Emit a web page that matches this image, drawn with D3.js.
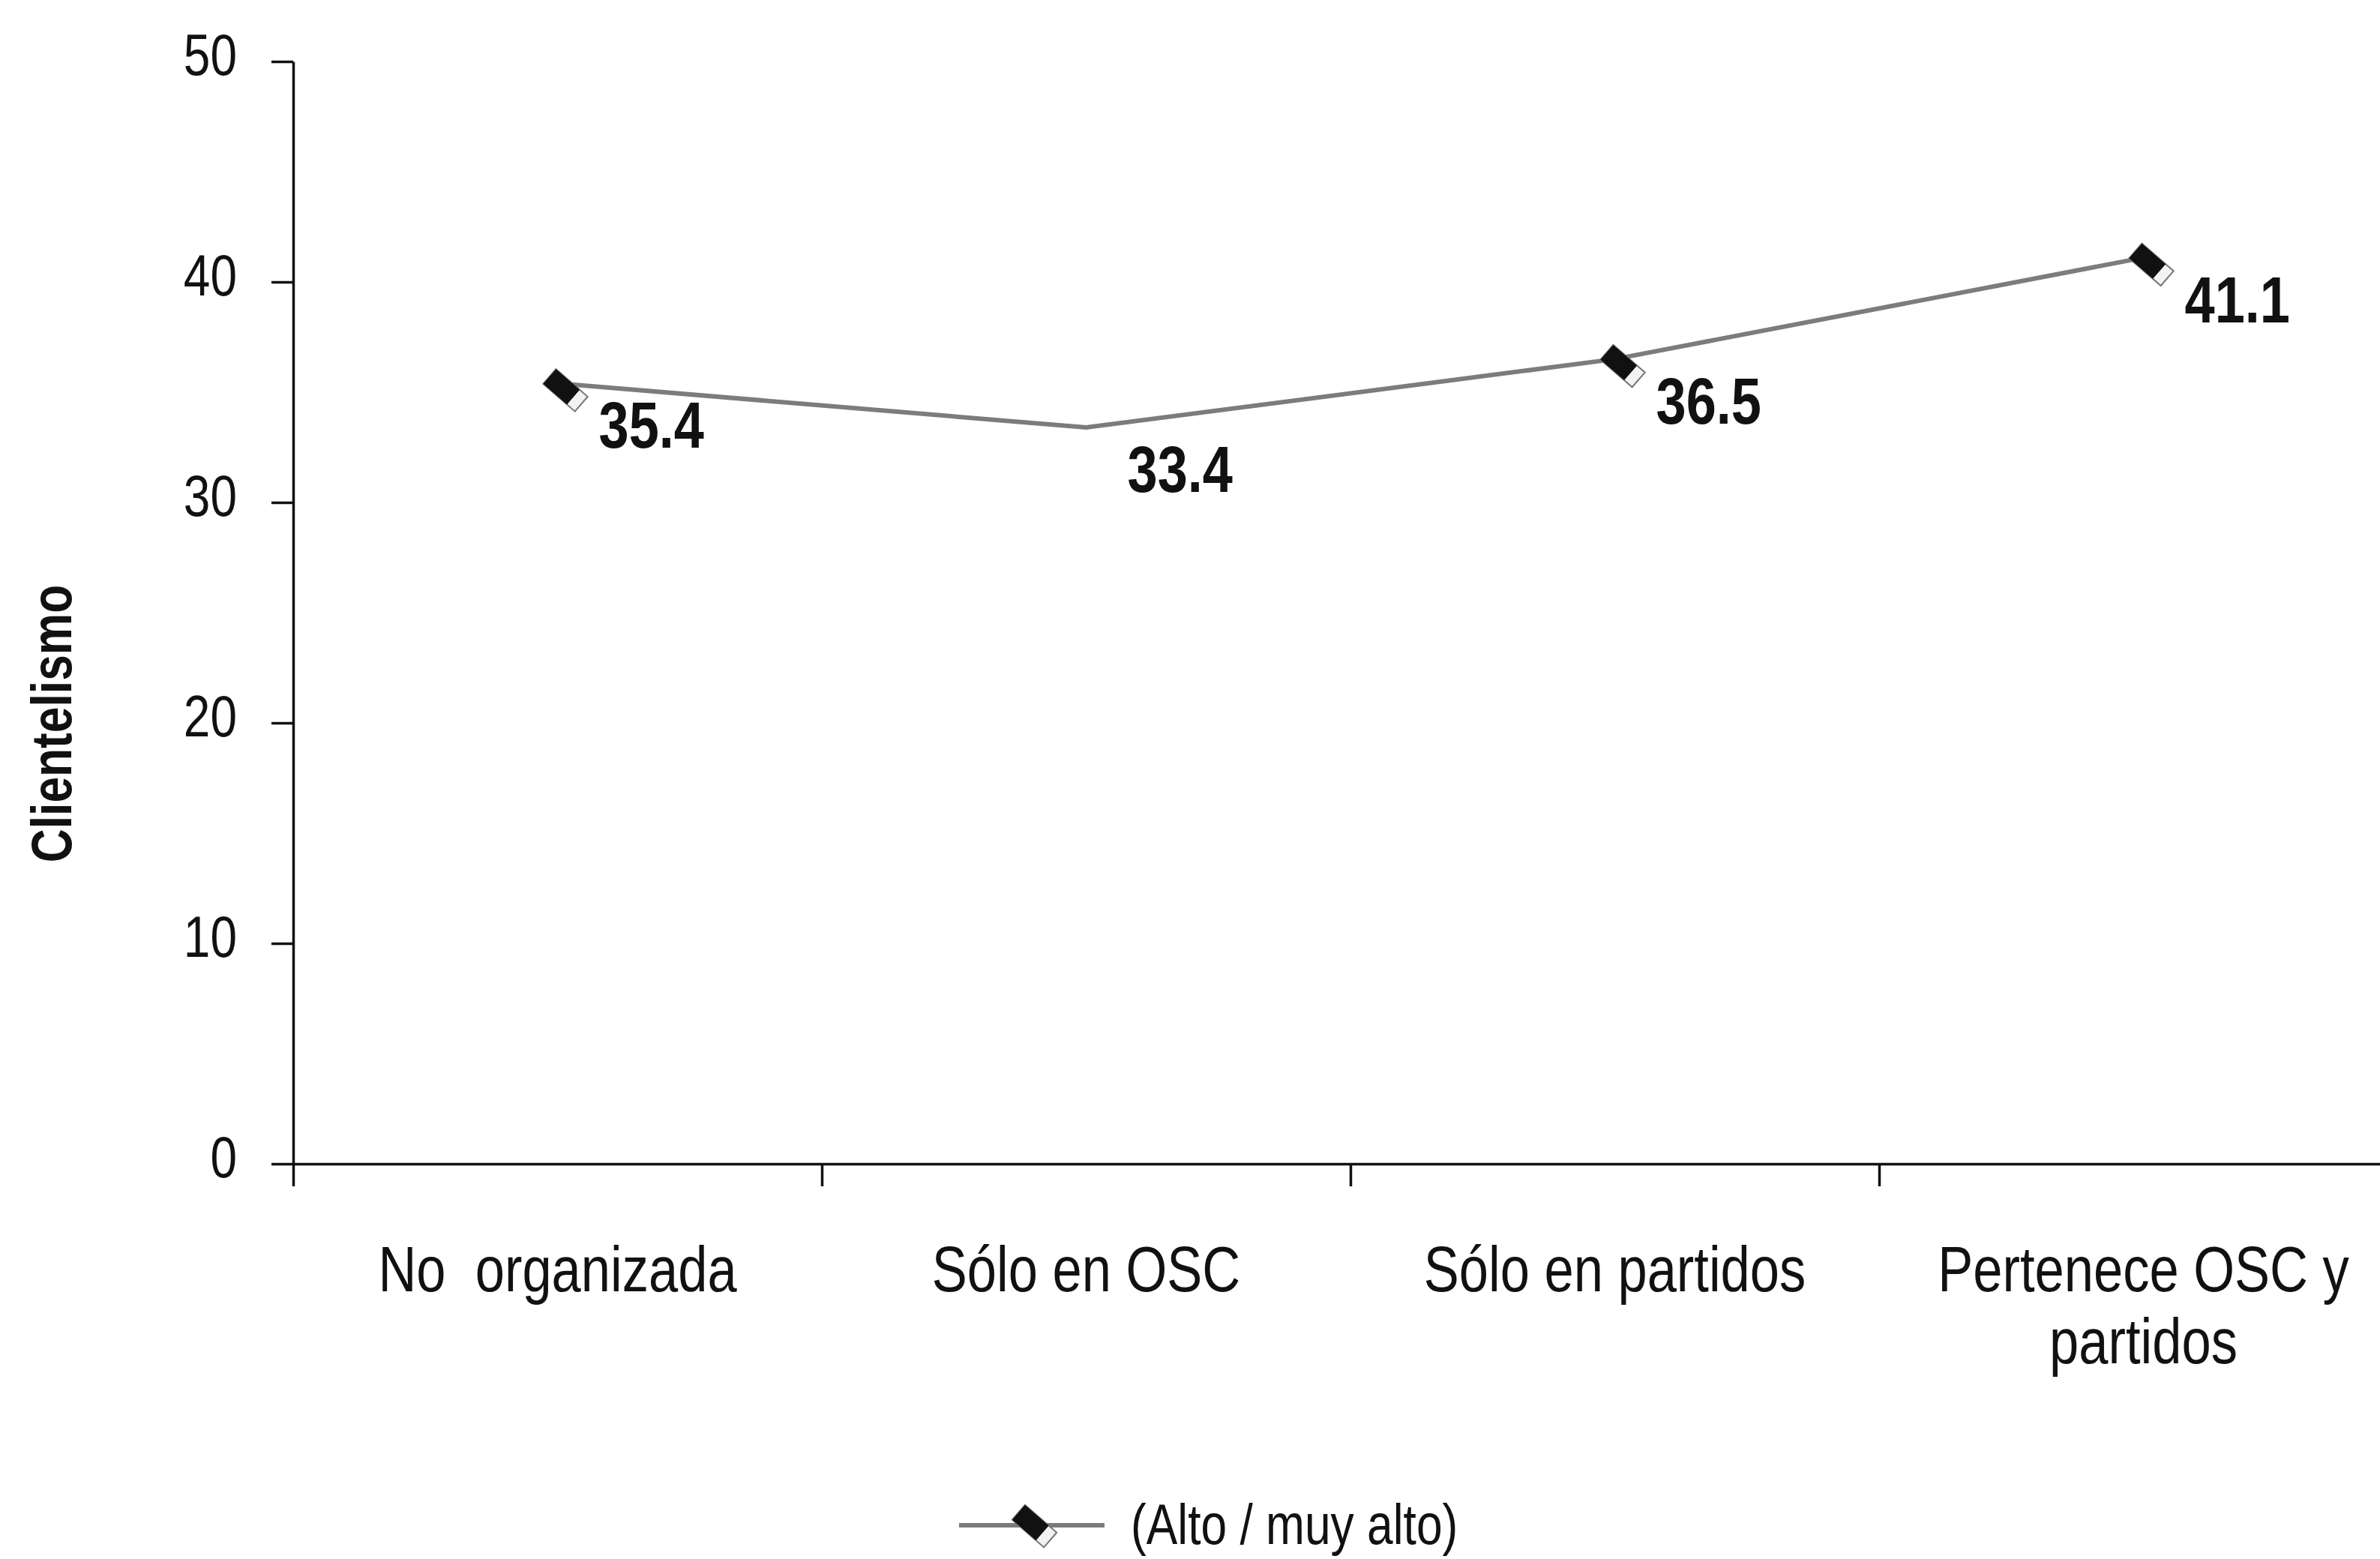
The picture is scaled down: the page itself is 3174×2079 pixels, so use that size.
<!DOCTYPE html>
<html>
<head>
<meta charset="utf-8">
<script src="https://cdn.jsdelivr.net/npm/d3@7"></script>
<style>
  html, body { margin: 0; padding: 0; background: #ffffff; overflow: hidden; }
  svg { display: block; }
  text { font-family: "Liberation Sans", Arial, sans-serif; fill: #111; }
</style>
</head>
<body>
<svg id="chart" width="3174" height="2079"></svg>
<script>
// ---- data ----
const categories = ["No  organizada", "Sólo en OSC", "Sólo en partidos", "Pertenece OSC y partidos"];
const categoryLines = [["No  organizada"], ["Sólo en OSC"], ["Sólo en partidos"], ["Pertenece OSC y", "partidos"]];
const values = [35.4, 33.4, 36.5, 41.1];
const yTicks = [0, 10, 20, 30, 40, 50];
const seriesName = "(Alto / muy alto)";
const yTitle = "Clientelismo";

// ---- layout ----
(function () {
const W = 3174, H = 2079;
const NARROW = 0.82; // emulate Arial Narrow
const mLeft = 391, mRight = 3211, mTop = 82, mBottom = 1552;
const svg = d3.select("#chart");
svg.append("rect").attr("width", W).attr("height", H).attr("fill", "#fff");

const x = d3.scaleBand().domain(categories).range([mLeft, mRight]).padding(0);
const xEdge = d3.scaleLinear().domain([0, categories.length]).range([mLeft, mRight]);
const y = d3.scaleLinear().domain([0, 50]).range([mBottom, mTop]);

function ntext(parent, px, py, extra) {
  return parent.append("text")
    .attr("transform", `translate(${px},${py}) ${extra || ""} scale(${NARROW},1)`);
}

// y axis
const gy = svg.append("g").attr("transform", `translate(${mLeft},0)`)
  .call(d3.axisLeft(y).tickValues(yTicks).tickSize(29).tickSizeOuter(0).tickPadding(46).tickFormat(d3.format("d")));
gy.attr("font-family", null).attr("font-size", null);
gy.select(".domain").attr("stroke", "#111").attr("stroke-width", 3.5);
gy.selectAll(".tick line").attr("stroke", "#111").attr("stroke-width", 3.5);
gy.selectAll(".tick text")
  .attr("x", null).attr("dy", "0.28em")
  .attr("transform", `translate(-75,-4) scale(${NARROW},1)`)
  .attr("font-size", 78).attr("fill", "#111");

// x axis (tick marks at category boundaries)
const gx = svg.append("g").attr("transform", `translate(0,${mBottom})`)
  .call(d3.axisBottom(xEdge).tickValues(d3.range(categories.length + 1)).tickSize(30).tickSizeOuter(0).tickFormat(""));
gx.select(".domain").attr("stroke", "#111").attr("stroke-width", 3.5);
gx.selectAll(".tick line").attr("stroke", "#111").attr("stroke-width", 3.5);

// category labels
categories.forEach((c, i) => {
  const cx = x(c) + x.bandwidth() / 2;
  const t = ntext(svg, cx, 1722)
    .attr("text-anchor", "middle")
    .attr("font-size", 86)
    .style("white-space", "pre");
  categoryLines[i].forEach((ln, j) => {
    t.append("tspan").attr("x", 0).attr("dy", j === 0 ? 0 : 96).text(ln);
  });
});

// y title
svg.append("text")
  .attr("transform", `translate(95,965) rotate(-90) scale(${NARROW},1)`)
  .attr("text-anchor", "middle")
  .attr("font-size", 76)
  .attr("font-weight", "bold")
  .text(yTitle);

// line
const pts = categories.map((c, i) => [x(c) + x.bandwidth() / 2, y(values[i])]);
svg.append("path")
  .attr("d", d3.line()(pts))
  .attr("fill", "none")
  .attr("stroke", "#7c7c7c")
  .attr("stroke-width", 6);

function marker(g) {
  const m = g.append("g").attr("transform", "rotate(41)");
  m.append("rect").attr("x", -14).attr("y", -13).attr("width", 56).attr("height", 26)
    .attr("fill", "#f2f2f2").attr("stroke", "#777").attr("stroke-width", 2);
  m.append("rect").attr("x", -14).attr("y", -13).attr("width", 42).attr("height", 26).attr("fill", "#111");
}

pts.forEach((p, i) => {
  if (i === 1) return; // second point shows no marker in the reference
  marker(svg.append("g").attr("transform", `translate(${p[0]},${p[1]})`));
});

// data labels
pts.forEach((p, i) => {
  ntext(svg, p[0] + 55, p[1] + 86)
    .attr("font-size", 88)
    .attr("font-weight", "bold")
    .text(values[i].toFixed(1));
});

// legend
const lg = svg.append("g").attr("transform", "translate(1279,2034)");
lg.append("line").attr("x1", 0).attr("x2", 194).attr("y1", 0).attr("y2", 0)
  .attr("stroke", "#7c7c7c").attr("stroke-width", 6);
marker(lg.append("g").attr("transform", "translate(90,-8)"));
ntext(lg, 229, 0).attr("dy", "0.33em")
  .attr("font-size", 76).text(seriesName);
})();
</script>
</body>
</html>
